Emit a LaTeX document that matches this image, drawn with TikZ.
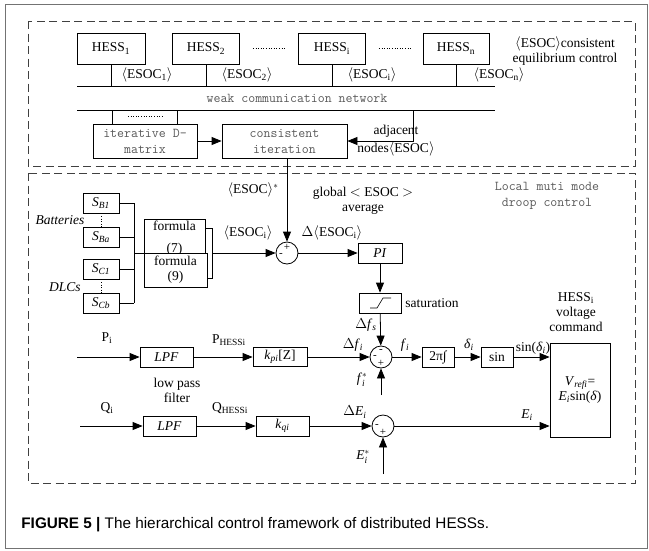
\documentclass[tikz,border=0pt]{standalone}
\usepackage{amsmath}
\usepackage{fontspec}
\setmainfont{Liberation Serif}
\setsansfont{Liberation Sans}
\usetikzlibrary{arrows.meta, positioning}

\newcommand{\fs}{\fontsize{13.5pt}{15pt}\selectfont}
\newcommand{\mono}{\ttfamily\fontsize{13.5pt}{16pt}\selectfont}
\newcommand{\ang}[1]{$\langle$#1$\rangle$}
\newcommand{\isub}[2]{\textit{#1}\textsubscript{\textit{#2}}}
\newcommand{\istar}[2]{\textit{#1}$^{*}_{\textit{#2}}$}

\tikzset{
  blk/.style={draw, fill=white, inner sep=0pt, font=\fs},
  mblk/.style={draw, fill=white, inner sep=0pt, font=\mono, text=black!65, align=center},
  sumj/.style={circle, draw, fill=white, minimum size=22pt, inner sep=0pt},
  sgn/.style={font=\fontsize{11pt}{11pt}\selectfont, inner sep=0pt},
  lbl/.style={font=\fs, inner sep=1pt, align=center},
  area/.style={draw=black!75, dash pattern=on 8pt off 4.5pt},
}

\begin{document}
\begin{tikzpicture}[x=1pt, y=-1pt, line width=0.8pt, >={Triangle[length=10pt,width=8pt]}]
    \useasboundingbox (0,0) rectangle (649,550);
    \draw[black!55, line width=1pt] (5,4) rectangle (647,548);

    % Areas
    \draw[area] (28,21) rectangle (635,166);
    \draw[area] (28,173) rectangle (635,483);

    % HESS units
    \node[blk, minimum width=68pt, minimum height=31pt] (h1) at (111,48.5) {HESS\textsubscript{1}};
    \node[blk, minimum width=67pt, minimum height=31pt] (h2) at (206,48.5) {HESS\textsubscript{2}};
    \node[blk, minimum width=67pt, minimum height=31pt] (hi) at (332,48.5) {HESS\textsubscript{i}};
    \node[blk, minimum width=66pt, minimum height=31pt] (hn) at (456,48.5) {HESS\textsubscript{n}};
    \draw[dotted, line width=0.6pt] (h2.east) ++(13,0) -- ++(32,0);
    \draw[dotted, line width=0.6pt] (hi.east) ++(13,0) -- ++(32,0);
    \node[lbl] (top) at (565,51) {\ang{ESOC}consistent\\equilibrium control};

    % Network
    \coordinate (netA) at (77,86);
    \coordinate (netB) at (495,86);
    \coordinate (netC) at (77,110);
    \coordinate (netD) at (495,110);
    \draw (netA) -- (netB);
    \draw (netC) -- (netD);
    \node[font=\mono, text=black!65] (net) at (297,98) {weak communication network};
    \foreach \h in {h1,h2,hi,hn}
        \draw (\h.south) -- (\h.south |- netA);
    \node[lbl] (e1) at (147,75) {\ang{ESOC\textsubscript{1}}};
    \node[lbl] (e2) at (247,75) {\ang{ESOC\textsubscript{2}}};
    \node[lbl] (ei) at (372,75) {\ang{ESOC\textsubscript{i}}};
    \node[lbl] (en) at (499,75) {\ang{ESOC\textsubscript{n}}};

    % Consensus
    \node[mblk, minimum width=104pt, minimum height=34pt] (iter) at (145,141) {iterative D-\\matrix};
    \node[mblk, minimum width=125pt, minimum height=34pt] (cons) at (284.5,141) {consistent\\iteration};
    \draw ([xshift=-33pt]iter.north) -- ([xshift=-33pt]iter.north |- netC);
    \draw ([xshift=32pt]iter.north) -- ([xshift=32pt]iter.north |- netC);
    \draw[dotted, line width=0.6pt] ([xshift=-17pt]iter.north) ++(0,-7) -- ++(34,0);
    \draw[->] (iter) -- (cons);
    \coordinate (adj) at (413,110);
    \draw[->] (adj) |- (cons.east);
    \node[lbl] (adjl) at (396,141) {adjacent\\[3pt]nodes\ang{ESOC}};

    % Storage units
    \node[blk, minimum width=36pt, minimum height=20pt] (sb1) at (101,203) {\isub{S}{B1}};
    \node[blk, minimum width=36pt, minimum height=20pt] (sba) at (101,237) {\isub{S}{Ba}};
    \node[blk, minimum width=36pt, minimum height=20pt] (sc1) at (101,269) {\isub{S}{C1}};
    \node[blk, minimum width=36pt, minimum height=20pt] (scb) at (101,303) {\isub{S}{Cb}};
    \draw[dotted, line width=0.6pt] (sb1) -- (sba);
    \draw[dotted, line width=0.6pt] (sc1) -- (scb);
    \node[lbl, font=\fs\itshape] (bat) at (60,220) {Batteries};
    \node[lbl, font=\fs\itshape] (dlc) at (65,287) {DLCs};
    \coordinate (bus) at (134,253);
    \foreach \s in {sb1,sba,sc1,scb}
        \draw (\s.east) -- (\s.east -| bus);
    \draw (bus |- sb1) -- (bus |- scb);

    % Formulas
    \node[blk, minimum width=61pt, minimum height=39pt, align=center] (f7) at (174.5,238.5) {formula\\[7pt](7)};
    \node[blk, minimum width=63pt, minimum height=34pt, align=center] (f9) at (175.5,270) {formula\\(9)};
    \draw (bus) -- (bus -| f9.west);
    \draw (f7.east |- 0,228) -| (212,278) -- (f9.east |- 0,278);

    % ESOC loop
    \node[sumj] (s1) at (287,253) {};
    \node[sgn] at ([yshift=6pt]s1.center) {+};
    \node[sgn] at ([xshift=-6pt,yshift=-2pt]s1.center) {-};
    \draw[->] (212,253) -- (s1.west);
    \draw[->] (s1 |- cons.south) -- (s1.north);
    \node[lbl] (estar) at (253,190) {\ang{ESOC}$^{*}$};
    \node[lbl] (glob) at (363,201) {global $<$ ESOC $>$\\average};
    \node[lbl] (esi) at (248,233) {\ang{ESOC\textsubscript{i}}};
    \node[lbl] (desi) at (332,233) {$\Delta$\ang{ESOC\textsubscript{i}}};
    \node[font=\mono, text=black!65, align=center] (loc) at (547,196) {Local muti mode\\droop control};
    \node[blk, minimum width=44pt, minimum height=20pt] (pi) at (380,253) {\textit{PI}};
    \draw[->] (s1) -- (pi);
    \node[blk, minimum width=42pt, minimum height=20pt] (sat) at (380,303) {};
    \draw[line width=0.6pt] (sat.center) ++(-10,5) -- ++(7,0) -- ++(6,-10) -- ++(8,0);
    \node[lbl, anchor=west] (satl) at (404,303) {saturation};
    \draw[->] (pi) -- (sat);

    % Frequency path
    \coordinate (pin) at (77,357);
    \node[blk, minimum width=53pt, minimum height=20pt] (lpf1) at (166.5,357) {\textit{LPF}};
    \node[blk, minimum width=54pt, minimum height=19pt] (kp) at (280,357) {\isub{k}{pi}[Z]};
    \node[sumj] (s2) at (381,357) {};
    \node[sgn] at ([yshift=6pt]s2.center) {-};
    \node[sgn] at ([xshift=-6pt]s2.center) {-};
    \node[sgn] at ([yshift=-6pt]s2.center) {+};
    \node[blk, minimum width=32pt, minimum height=20pt] (int) at (438,357) {2π∫};
    \node[blk, minimum width=32pt, minimum height=20pt] (sin) at (497,357) {sin};
    \node[blk, minimum width=60pt, minimum height=94pt, align=center] (vref) at (580,390) {\isub{V}{refi}=\\\textit{E}\textsubscript{\textit{i}}sin(\textit{δ})};
    \coordinate (fin) at (381,395);
    \draw[->] (pin) -- (lpf1);
    \draw[->] (lpf1) -- (kp);
    \draw[->] (kp) -- (s2);
    \draw[->] (sat) -- (s2);
    \draw[->] (fin) -- (s2);
    \draw[->] (s2) -- (int);
    \draw[->] (int) -- (sin);
    \draw[->] (sin) -- (sin -| vref.west);
    \node[lbl] (pl) at (107,338) {P\textsubscript{i}};
    \node[lbl] (phl) at (229,340) {P\textsubscript{HESSi}};
    \node[lbl] (lpl) at (177,390) {low pass\\filter};
    \node[lbl] (dfs) at (366,325) {$\Delta$\isub{f}{s}};
    \node[lbl] (dfi) at (353,345) {$\Delta$\isub{f}{i}};
    \node[lbl] (fil) at (405,345) {\isub{f}{i}};
    \node[lbl] (dil) at (469,345) {\isub{δ}{i}};
    \node[lbl] (sil) at (533,348) {sin(\isub{δ}{i})};
    \node[lbl] (fsl) at (362,380) {\istar{f}{i}};
    \node[lbl] (cmd) at (576,312) {HESS\textsubscript{i}\\voltage\\command};

    % Voltage path
    \coordinate (qin) at (80,426);
    \node[blk, minimum width=53pt, minimum height=20pt] (lpf2) at (169.5,426) {\textit{LPF}};
    \node[blk, minimum width=53pt, minimum height=20pt] (kq) at (282.5,426) {\isub{k}{qi}};
    \node[sumj] (s3) at (383,426) {};
    \node[sgn] at ([xshift=-6pt]s3.center) {-};
    \node[sgn] at ([yshift=-6pt]s3.center) {+};
    \coordinate (ein) at (383,474);
    \draw[->] (qin) -- (lpf2);
    \draw[->] (lpf2) -- (kq);
    \draw[->] (kq) -- (s3);
    \draw[->] (ein) -- (s3);
    \draw[->] (s3) -- (s3 -| vref.west);
    \node[lbl] (ql) at (107,408) {Q\textsubscript{i}};
    \node[lbl] (qhl) at (230,408) {Q\textsubscript{HESSi}};
    \node[lbl] (del) at (355,412) {$\Delta$\isub{E}{i}};
    \node[lbl] (eil) at (527,415) {\isub{E}{i}};
    \node[lbl] (esl) at (363,457) {\istar{E}{i}};

    % Caption
    \node[anchor=base west, inner sep=0pt, font=\sffamily\fontsize{15.3pt}{17pt}\selectfont] (cap) at (21,528)
        {\textbf{FIGURE 5 |} The hierarchical control framework of distributed HESSs.};
\end{tikzpicture}
\end{document}
